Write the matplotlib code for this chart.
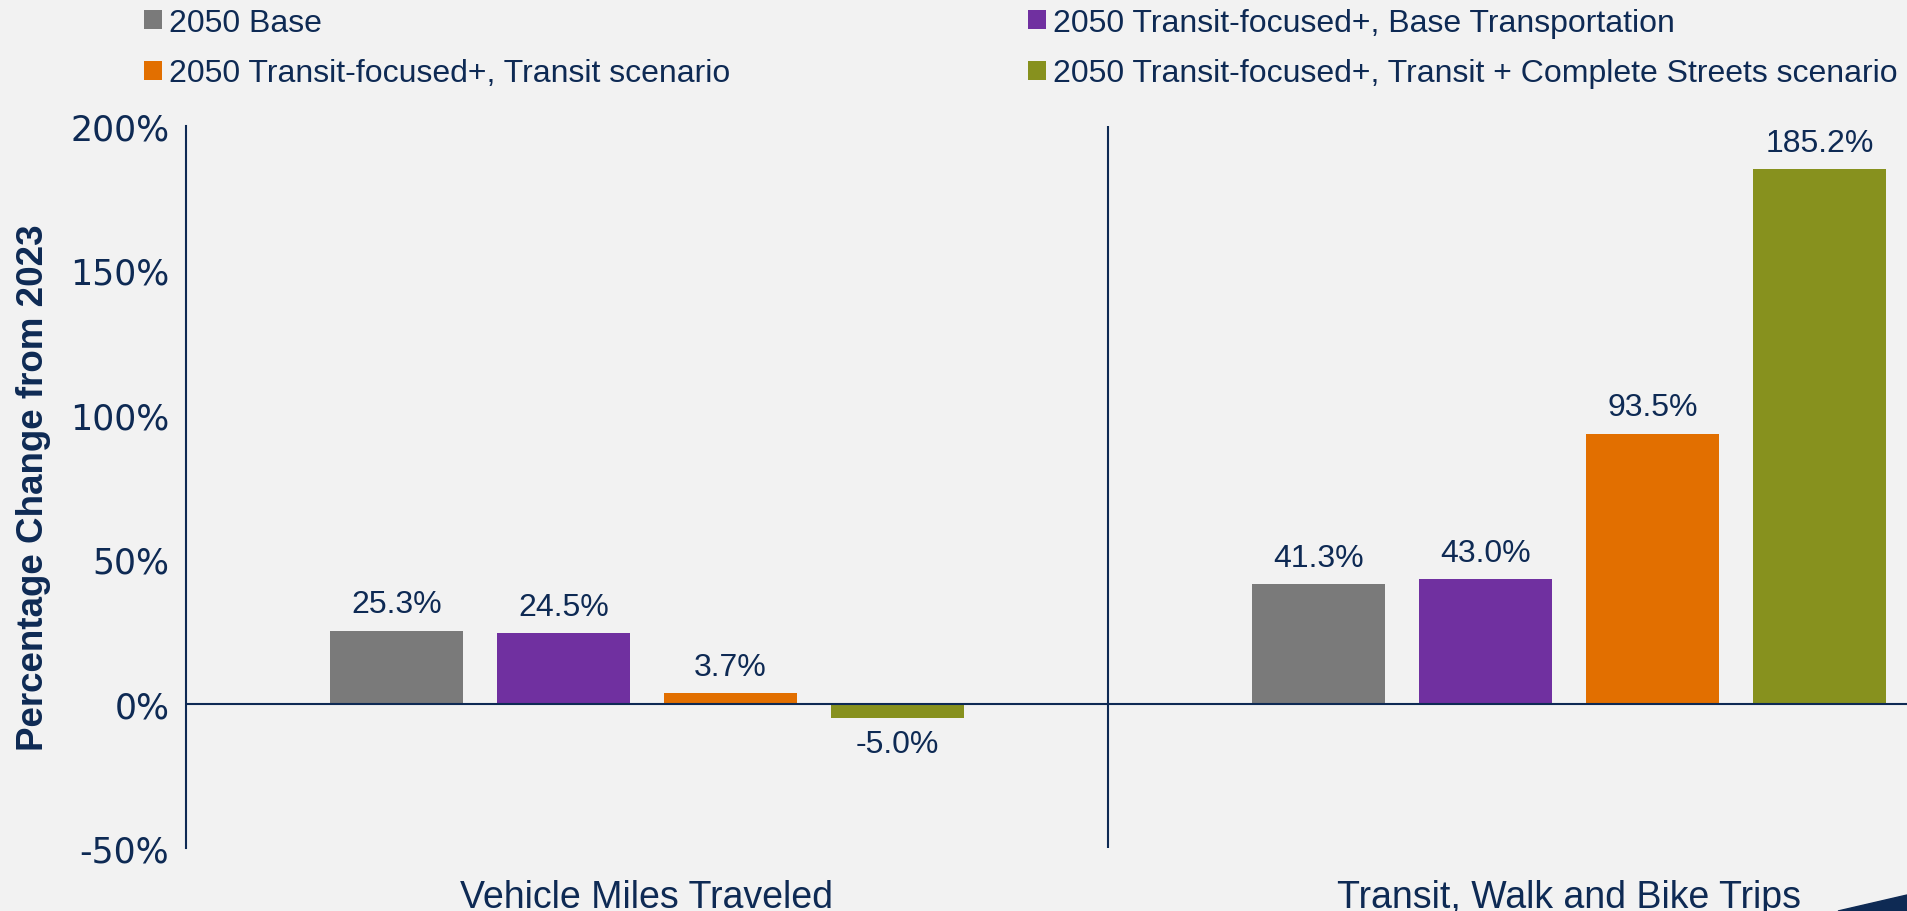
import matplotlib
matplotlib.use("Agg")
import matplotlib.pyplot as plt
from matplotlib.patches import Polygon
from matplotlib.ticker import FuncFormatter, MultipleLocator
import numpy as np

# chart data
categories = ["Vehicle Miles Traveled", "Transit, Walk and Bike Trips"]
series_names = [
    "2050 Base",
    "2050 Transit-focused+, Base Transportation",
    "2050 Transit-focused+, Transit scenario",
    "2050 Transit-focused+, Transit + Complete Streets scenario",
]
base_2050 = [25.3, 41.3]
tf_base = [24.5, 43.0]
tf_transit = [3.7, 93.5]
tf_complete = [-5.0, 185.2]

colors = ["#7a7a7a", "#7030a0", "#e26f00", "#87911e"]
navy = "#0e2a54"
bg = "#f2f2f2"

W, H = 1907, 912
fig = plt.figure(figsize=(W / 100, H / 100), dpi=100, facecolor=bg)
# axes runs past the right edge of the figure (chart is cropped there)
ax = fig.add_axes([186 / W, 63 / H, 1844 / W, 722 / H], facecolor=bg)

x = np.arange(len(categories))
pitch = 0.181
width = 0.1437
bars = []
for i, vals in enumerate([base_2050, tf_base, tf_transit, tf_complete]):
    b = ax.bar(x + (i - 1.5) * pitch, vals, width, color=colors[i], label=series_names[i])
    ax.bar_label(b, fmt="{:.1f}%", padding=8, fontsize=23, color=navy,
                 family="Liberation Sans")
    bars.append(b)

ax.set_xlim(-0.5, 1.5)
ax.set_ylim(-50, 200)
ax.yaxis.set_major_locator(MultipleLocator(50))
ax.yaxis.set_major_formatter(FuncFormatter(lambda v, p: f"{int(v)}%"))
ax.set_xticks(x)
ax.set_xticklabels(categories, fontsize=27, color=navy, family="Liberation Sans")
ax.tick_params(axis="x", length=0, pad=22)
ax.tick_params(axis="y", length=0, pad=12, labelsize=25, labelcolor=navy)
for lab in ax.get_yticklabels():
    lab.set_family("DejaVu Sans")

for s in ["top", "right", "bottom"]:
    ax.spines[s].set_visible(False)
ax.spines["left"].set_color(navy)
ax.spines["left"].set_linewidth(1.5)
ax.axhline(0, color=navy, lw=1.5)
ax.axvline(0.5, color=navy, lw=1.5)

# y label centred on the axes height
fig.text(34 / W, 424 / H, "Percentage Change from 2023", rotation=90,
         ha="center", va="center", fontsize=26.5, fontweight="bold", color=navy,
         family="Liberation Sans")

# legend: two separate columns
leg_kw = dict(loc="upper left", frameon=False, labelcolor=navy,
              handlelength=0.55, handleheight=0.55, handletextpad=0.22,
              labelspacing=0.64, borderpad=0, borderaxespad=0,
              prop={"family": "Liberation Sans", "size": 23})
fig.legend(handles=[bars[0], bars[2]], bbox_to_anchor=(144 / W, 1 - 9 / H), **leg_kw)
fig.legend(handles=[bars[1], bars[3]], bbox_to_anchor=(1028 / W, 1 - 9 / H), **leg_kw)

# corner decoration
fig.patches.append(Polygon([(1838 / W, 0), (1, 16 / H), (1, 0)], closed=True,
                           transform=fig.transFigure, color=navy))

fig.savefig("out.png", dpi=100, facecolor=bg)
